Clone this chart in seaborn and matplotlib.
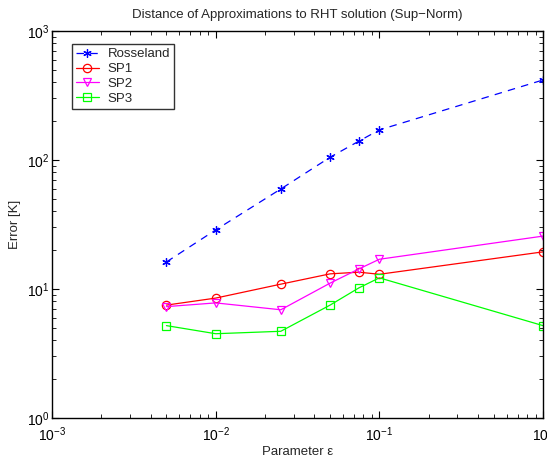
import numpy as np
import pandas as pd
import seaborn as sns
import matplotlib.pyplot as plt

# parameter values and sup-norm error of each approximation
eps = [0.005, 0.01, 0.025, 0.05, 0.075, 0.1, 1.0]
rosseland = [16.2, 28.7, 59.6, 105, 140, 171, 417]
sp1 = [7.5, 8.5, 10.9, 13.1, 13.5, 13.0, 19.4]
sp2 = [7.3, 7.8, 6.9, 11.1, 14.3, 17.0, 25.7]
sp3 = [5.2, 4.5, 4.7, 7.5, 10.2, 12.2, 5.2]

series = ['Rosseland', 'SP1', 'SP2', 'SP3']
values = [rosseland, sp1, sp2, sp3]
colors = ['#0000ff', '#ff0000', '#ff00ff', '#00ff00']
markers = [(6, 2, 0), 'o', 'v', 's']
linestyles = [(0, (6, 5)), '-', '-', '-']

df = pd.DataFrame({'eps': eps * len(series),
                   'err': np.concatenate(values),
                   'method': np.repeat(series, len(eps))})

sns.set_style('white')
plt.rcParams['font.family'] = ['Liberation Sans', 'DejaVu Sans']
plt.rcParams['mathtext.default'] = 'regular'
plt.rcParams['xtick.direction'] = 'in'
plt.rcParams['ytick.direction'] = 'in'

fig = plt.figure(figsize=(5.47, 4.61), dpi=100)
ax = fig.add_axes([0.0951, 0.0933, 0.8976, 0.8395])

for name, c, m, ls in zip(series, colors, markers, linestyles):
    sub = df[df['method'] == name]
    sns.lineplot(data=sub, x='eps', y='err', ax=ax, color=c, marker=m,
                 markersize=6, markerfacecolor='none', markeredgecolor=c,
                 markeredgewidth=0.9, linewidth=0.9, linestyle=ls,
                 label=name, legend=False)

ax.set_xscale('log')
ax.set_yscale('log')
ax.set_xlim(1e-3, 1)
ax.set_ylim(1, 1e3)

for s in ax.spines.values():
    s.set_color('black')
    s.set_linewidth(1.0)
ax.tick_params(which='both', direction='in', top=True, right=True,
               bottom=True, left=True, labelsize=10, colors='black')
ax.tick_params(which='major', length=5, width=0.8)
ax.tick_params(which='minor', length=3, width=0.6)
ax.tick_params(axis='x', pad=5)
ax.tick_params(axis='y', pad=2)

ax.set_title('Distance of Approximations to RHT solution (Sup\u2212Norm)', fontsize=9.5, pad=9)
ax.set_xlabel('Parameter \u03b5', fontsize=9.5, labelpad=2)
ax.set_ylabel('Error [K]', fontsize=9.5)

leg = ax.legend(loc='upper left', bbox_to_anchor=(0.041, 0.966), borderaxespad=0,
                fontsize=9.5, frameon=True, fancybox=False, handlelength=1.7,
                borderpad=0.3, labelspacing=0.2, handletextpad=0.7)
leg.get_frame().set_edgecolor('black')
leg.get_frame().set_linewidth(1.0)

fig.savefig('out.png', dpi=100)
